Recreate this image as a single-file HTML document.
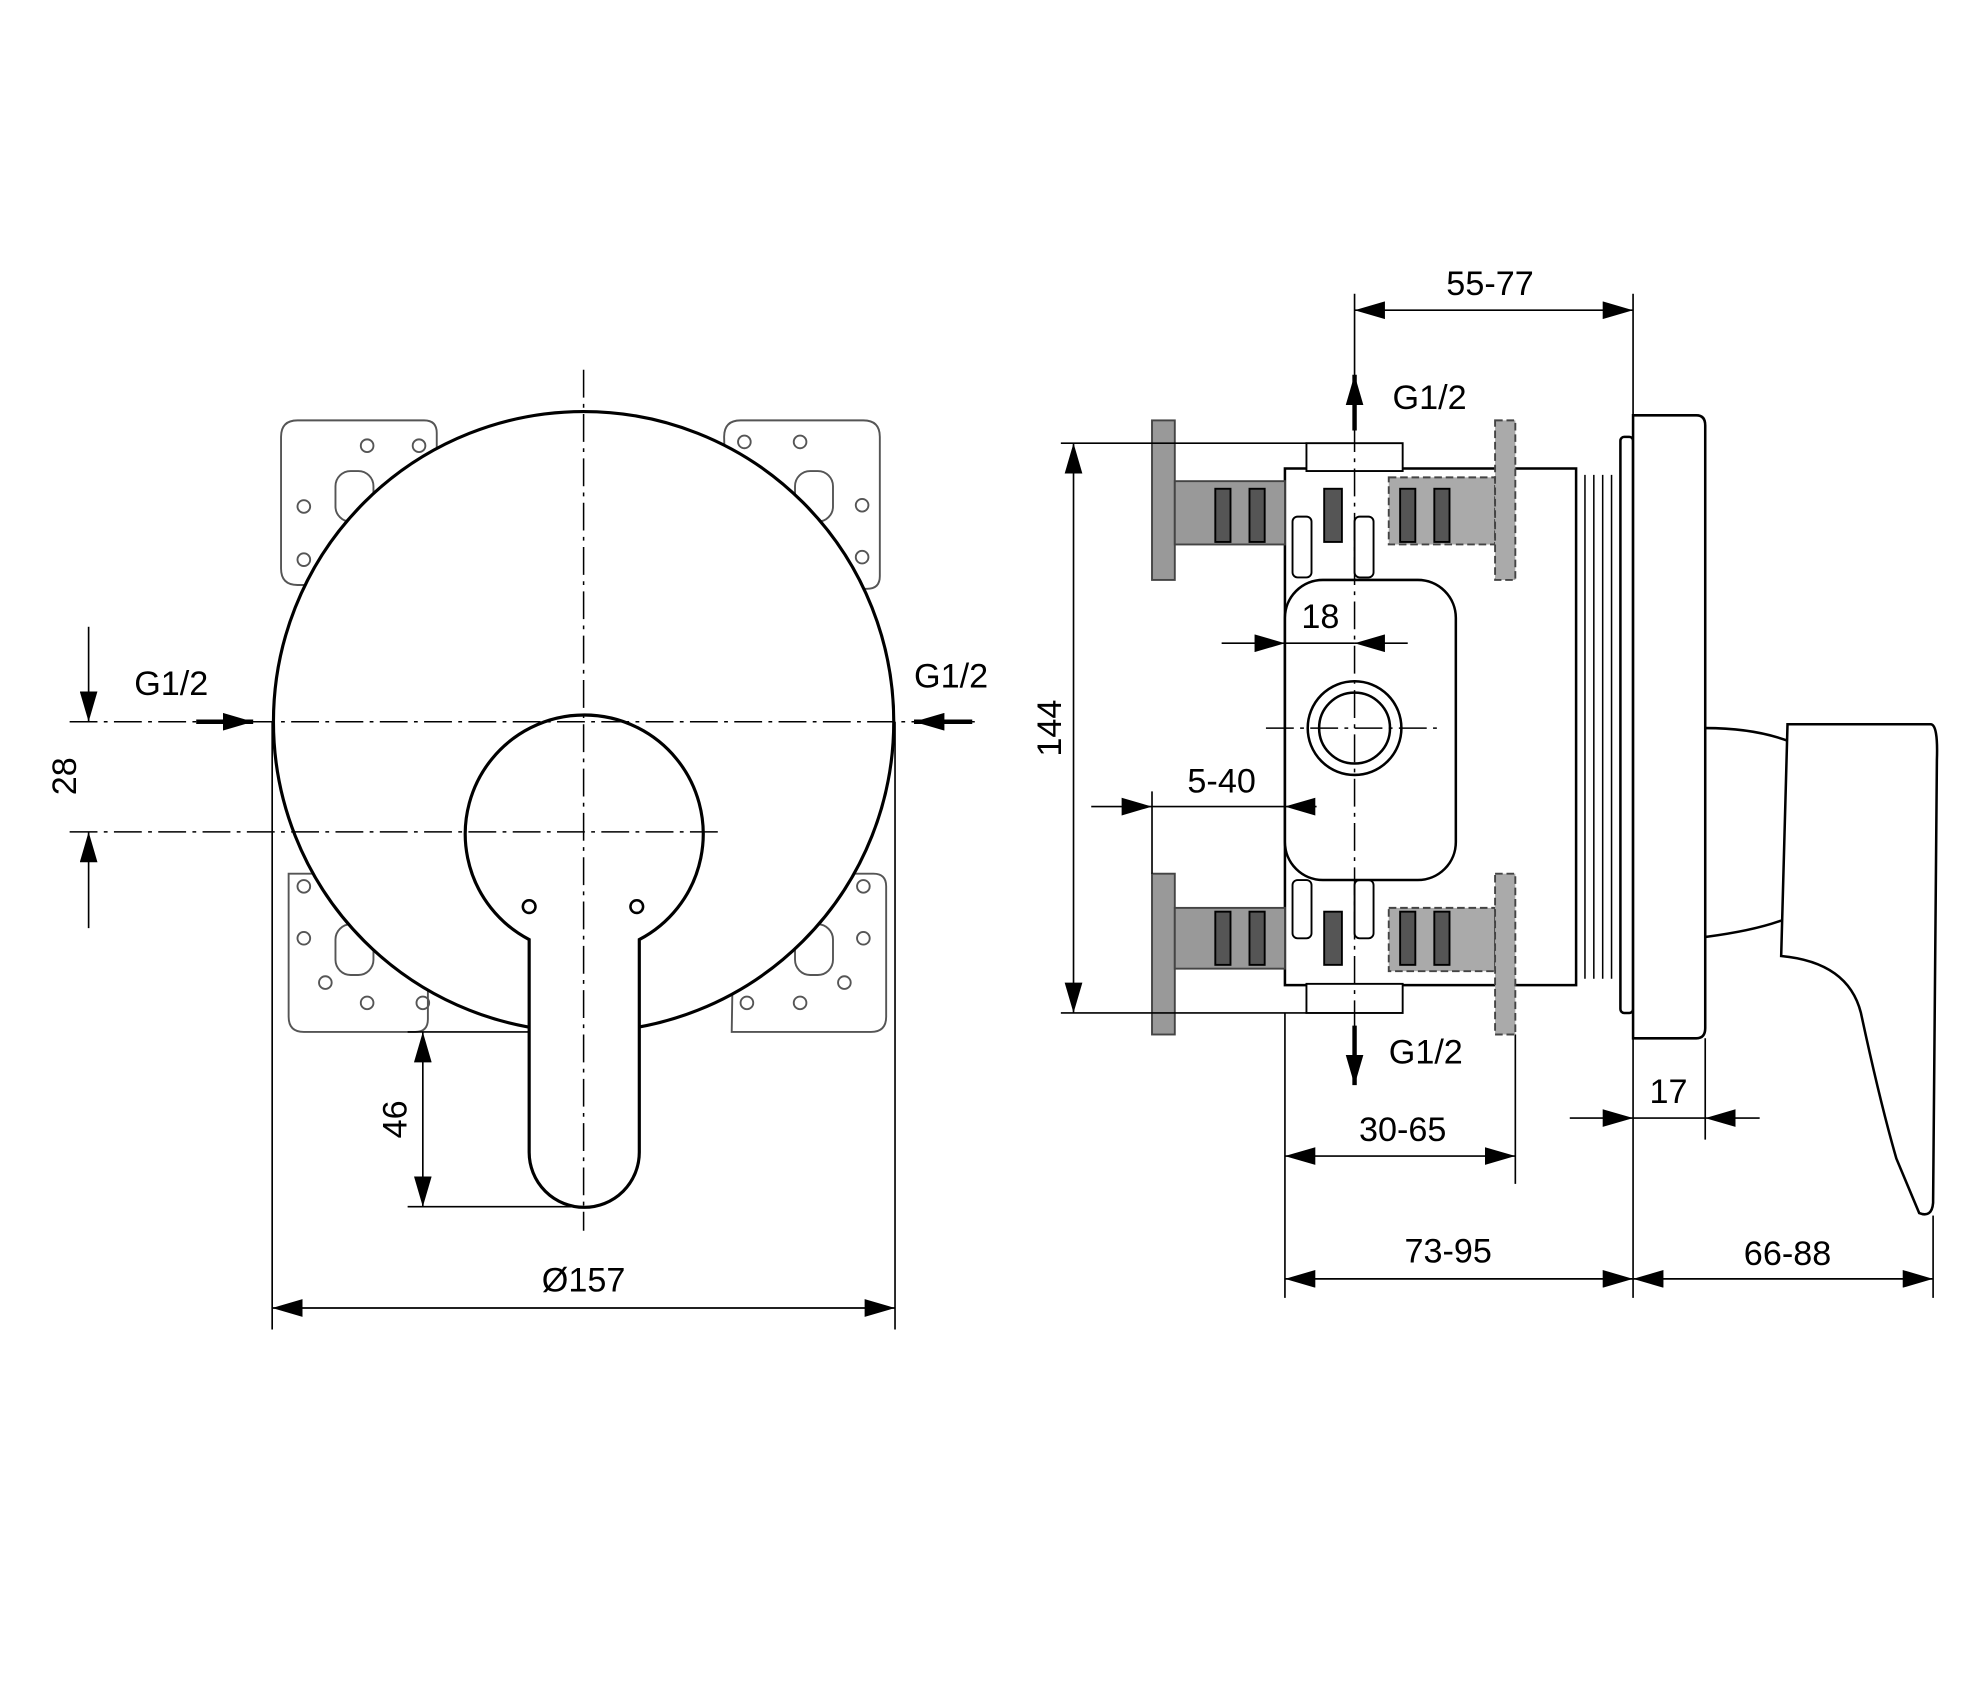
<!DOCTYPE html>
<html><head><meta charset="utf-8"><style>html,body{margin:0;padding:0;background:#fff}svg{display:block}</style></head><body>
<svg width="1985" height="1698" viewBox="0 0 1568 1341" preserveAspectRatio="none" xmlns="http://www.w3.org/2000/svg" font-family="Liberation Sans, sans-serif" font-size="27" fill="none" stroke="#000">
<defs>
<marker id="b" viewBox="0 0 24 14" refX="24" refY="7" markerWidth="24" markerHeight="14" orient="auto-start-reverse" markerUnits="userSpaceOnUse"><path d="M0,0 L24,7 L0,14z" fill="#000" stroke="none"/></marker>
</defs>
<g stroke="#555" stroke-width="1.5">
<path d="M222,345 q0,-13 13,-13 h100 q10,0 10,10 v120 h-110 q-13,0 -13,-13z"/>
<path d="M572,345 q0,-13 13,-13 h97 q13,0 13,13 v110 q0,10 -10,10 h-110z"/>
<path d="M228,690 h110 v115 q0,10 -10,10 h-88 q-12,0 -12,-12z"/>
<path d="M580,690 h110 q10,0 10,10 v103 q0,12 -12,12 h-110z"/>
<g fill="none"><circle cx="290" cy="352" r="5"/><circle cx="331" cy="352" r="5"/><circle cx="240" cy="400" r="5"/><circle cx="240" cy="442" r="5"/><circle cx="588" cy="349" r="5"/><circle cx="632" cy="349" r="5"/><circle cx="681" cy="399" r="5"/><circle cx="681" cy="440" r="5"/>
<circle cx="240" cy="700" r="5"/><circle cx="240" cy="741" r="5"/><circle cx="257" cy="776" r="5"/><circle cx="290" cy="792" r="5"/><circle cx="334" cy="792" r="5"/><circle cx="682" cy="700" r="5"/><circle cx="682" cy="741" r="5"/><circle cx="667" cy="776" r="5"/><circle cx="632" cy="792" r="5"/><circle cx="590" cy="792" r="5"/>
<rect x="265" y="372" width="30" height="40" rx="12"/><rect x="628" y="372" width="30" height="40" rx="12"/><rect x="265" y="730" width="30" height="40" rx="12"/><rect x="628" y="730" width="30" height="40" rx="12"/></g>
</g>
<circle cx="461" cy="570" r="245" fill="#fff" stroke-width="2.5"/>
<path d="M418,742 A94,94 0 1 1 505,742 V910 A43,43 0 0 1 418,910 Z" fill="#fff" stroke-width="2.5"/>
<circle cx="418" cy="716" r="5" stroke-width="2"/><circle cx="503" cy="716" r="5" stroke-width="2"/>
<g stroke-width="1.2" stroke-dasharray="22,5,3,5">
<line x1="461" y1="292" x2="461" y2="972"/><line x1="55" y1="570" x2="770" y2="570"/><line x1="55" y1="657" x2="570" y2="657"/>
</g>
<g stroke-width="1.3">
<line x1="70" y1="495" x2="70" y2="570" marker-end="url(#b)"/><line x1="70" y1="733" x2="70" y2="657" marker-end="url(#b)"/>
<line x1="322" y1="815" x2="418" y2="815"/><line x1="322" y1="953" x2="461" y2="953"/>
<line x1="334" y1="815" x2="334" y2="953" marker-start="url(#b)" marker-end="url(#b)"/>
<line x1="215" y1="570" x2="215" y2="1050"/><line x1="707" y1="570" x2="707" y2="1050"/>
<line x1="215" y1="1033" x2="707" y2="1033" marker-start="url(#b)" marker-end="url(#b)"/>
</g>
<g stroke-width="3.5"><line x1="155" y1="570" x2="200" y2="570" marker-end="url(#b)"/><line x1="768" y1="570" x2="722" y2="570" marker-end="url(#b)"/>
<line x1="1070" y1="340" x2="1070" y2="296" marker-end="url(#b)"/><line x1="1070" y1="810" x2="1070" y2="857" marker-end="url(#b)"/></g>
<!-- right view -->
<g stroke-width="2">
<rect x="1015" y="370" width="230" height="408" fill="#fff"/>
<g fill="#999" stroke="#444" stroke-width="1.5">
<rect x="910" y="332" width="18" height="126"/><rect x="910" y="690" width="18" height="127"/>
<rect x="928" y="380" width="87" height="50"/><rect x="928" y="717" width="87" height="48"/>
<rect x="1097" y="377" width="84" height="53" fill="#aaa" stroke-dasharray="6,3"/><rect x="1097" y="717" width="84" height="50" fill="#aaa" stroke-dasharray="6,3"/>
<rect x="1181" y="332" width="16" height="126" fill="#aaa" stroke-dasharray="6,3"/><rect x="1181" y="690" width="16" height="127" fill="#aaa" stroke-dasharray="6,3"/>
</g>
<g fill="#555" stroke="#000" stroke-width="1.5">
<rect x="960" y="386" width="12" height="42"/><rect x="987" y="386" width="12" height="42"/><rect x="960" y="720" width="12" height="42"/><rect x="987" y="720" width="12" height="42"/>
<rect x="1106" y="386" width="12" height="42"/><rect x="1133" y="386" width="12" height="42"/><rect x="1106" y="720" width="12" height="42"/><rect x="1133" y="720" width="12" height="42"/>
<rect x="1046" y="386" width="14" height="42"/><rect x="1046" y="720" width="14" height="42"/>
</g>
<g fill="#fff" stroke-width="1.5"><rect x="1021" y="408" width="15" height="48" rx="4"/><rect x="1070" y="408" width="15" height="48" rx="4"/><rect x="1021" y="695" width="15" height="46" rx="4"/><rect x="1070" y="695" width="15" height="46" rx="4"/>
<rect x="1032" y="350" width="76" height="22"/><rect x="1032" y="777" width="76" height="23"/></g>
<rect x="1015" y="458" width="135" height="237" rx="30" fill="#fff"/>
<circle cx="1070" cy="575" r="37"/><circle cx="1070" cy="575" r="28"/>
<g stroke-width="1.2"><path d="M1245,375 V773 M1252,375 V773 M1259,375 V773 M1266,375 V773 M1273,375 V773"/></g>
<rect x="1280" y="345" width="10" height="455" rx="3" fill="#fff"/>
<path d="M1290,328 H1340 Q1347,328 1347,336 V812 Q1347,820 1340,820 H1290z" fill="#fff"/>
<path d="M1347,575 Q1385,575 1412,585 M1347,740 Q1385,735 1407,727" />
<path d="M1412,572 H1525 Q1531,572 1530,600 L1527,950 Q1526,962 1516,958 L1498,915 Q1485,870 1470,800 Q1460,760 1407,755 Z" fill="#fff"/>
</g>
<g stroke-width="1.2" stroke-dasharray="22,5,3,5">
<line x1="1070" y1="300" x2="1070" y2="850"/><line x1="1000" y1="575" x2="1140" y2="575"/>
</g>
<g stroke-width="1.3">
<line x1="1070" y1="232" x2="1070" y2="300"/><line x1="1290" y1="232" x2="1290" y2="328"/>
<line x1="1070" y1="245" x2="1290" y2="245" marker-start="url(#b)" marker-end="url(#b)"/>
<line x1="838" y1="350" x2="1032" y2="350"/><line x1="838" y1="800" x2="1032" y2="800"/>
<line x1="848" y1="350" x2="848" y2="800" marker-start="url(#b)" marker-end="url(#b)"/>
<line x1="965" y1="508" x2="1015" y2="508" marker-end="url(#b)"/><line x1="1112" y1="508" x2="1070" y2="508" marker-end="url(#b)"/><line x1="1015" y1="508" x2="1070" y2="508"/>
<line x1="862" y1="637" x2="910" y2="637" marker-end="url(#b)"/><line x1="1040" y1="637" x2="1015" y2="637" marker-end="url(#b)"/><line x1="910" y1="637" x2="1015" y2="637"/>
<line x1="910" y1="625" x2="910" y2="690"/>
<line x1="1015" y1="800" x2="1015" y2="1025"/><line x1="1197" y1="817" x2="1197" y2="935"/>
<line x1="1015" y1="913" x2="1197" y2="913" marker-start="url(#b)" marker-end="url(#b)"/>
<line x1="1290" y1="820" x2="1290" y2="1025"/><line x1="1527" y1="960" x2="1527" y2="1025"/><line x1="1347" y1="820" x2="1347" y2="900"/>
<line x1="1015" y1="1010" x2="1290" y2="1010" marker-start="url(#b)" marker-end="url(#b)"/>
<line x1="1290" y1="1010" x2="1527" y2="1010" marker-start="url(#b)" marker-end="url(#b)"/>
<line x1="1240" y1="883" x2="1290" y2="883" marker-end="url(#b)"/><line x1="1390" y1="883" x2="1347" y2="883" marker-end="url(#b)"/><line x1="1290" y1="883" x2="1347" y2="883"/>
</g>
<g fill="#000" stroke="none">
<text x="106" y="549">G1/2</text><text x="722" y="543">G1/2</text>
<text x="461" y="1020" text-anchor="middle">Ø157</text>
<text transform="translate(60,613) rotate(-90)" text-anchor="middle">28</text>
<text transform="translate(321,884) rotate(-90)" text-anchor="middle">46</text>
<text x="1177" y="233" text-anchor="middle">55-77</text>
<text x="1100" y="323">G1/2</text><text x="1097" y="840">G1/2</text>
<text x="1043" y="496" text-anchor="middle">18</text>
<text x="965" y="626" text-anchor="middle">5-40</text>
<text transform="translate(838,575) rotate(-90)" text-anchor="middle">144</text>
<text x="1108" y="901" text-anchor="middle">30-65</text>
<text x="1144" y="997" text-anchor="middle">73-95</text>
<text x="1412" y="999" text-anchor="middle">66-88</text>
<text x="1318" y="871" text-anchor="middle">17</text>
</g>
</svg>
</body></html>
